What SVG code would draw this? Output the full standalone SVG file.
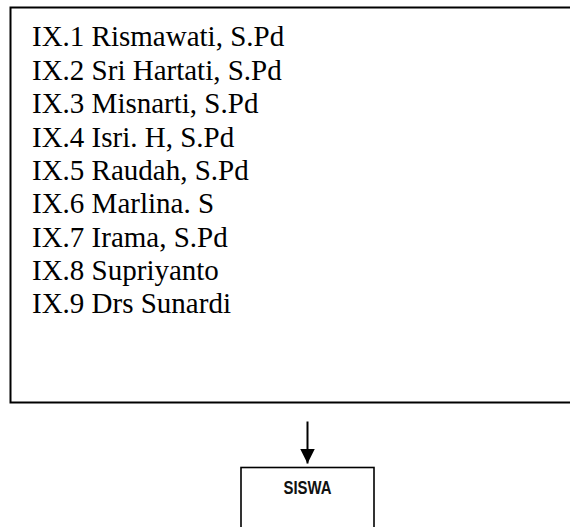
<svg xmlns="http://www.w3.org/2000/svg" width="570" height="527" viewBox="0 0 570 527">
<style>
.box{fill:#fff;stroke:#000}
.lst{font-family:"Liberation Serif","Times New Roman",serif;font-size:29px;fill:#000}
.lbl{font-family:"Liberation Sans",Arial,sans-serif;font-weight:bold;font-size:19px;fill:#111}
.conn{stroke:#000;stroke-width:2;fill:none}
</style>
<defs>
<marker id="ah" markerUnits="userSpaceOnUse" markerWidth="15" markerHeight="16" refX="15" refY="7.5" orient="auto">
<path d="M0,0 L15,7.5 L0,15 Z" fill="#000"/>
</marker>
</defs>
<rect width="570" height="527" fill="#fff"/>
<g id="guru">
<rect class="box" x="10.5" y="7.5" width="580" height="395" stroke-width="2"/>
<text class="lst" x="32" y="46">IX.1 Rismawati, S.Pd</text>
<text class="lst" x="32" y="79.5">IX.2 Sri Hartati, S.Pd</text>
<text class="lst" x="32" y="113">IX.3 Misnarti, S.Pd</text>
<text class="lst" x="32" y="146.5">IX.4 Isri. H, S.Pd</text>
<text class="lst" x="32" y="180">IX.5 Raudah, S.Pd</text>
<text class="lst" x="32" y="213">IX.6 Marlina. S</text>
<text class="lst" x="32" y="246.5">IX.7 Irama, S.Pd</text>
<text class="lst" x="32" y="280">IX.8 Supriyanto</text>
<text class="lst" x="32" y="313">IX.9 Drs Sunardi</text>
</g>
<g id="connectors">
<line class="conn" x1="307.5" y1="421.5" x2="307.5" y2="463.5" marker-end="url(#ah)"/>
</g>
<g id="siswa">
<rect class="box" x="241" y="467.5" width="133" height="80" stroke-width="1.6"/>
<text class="lbl" x="307.5" y="494" text-anchor="middle" textLength="48" lengthAdjust="spacingAndGlyphs">SISWA</text>
</g>
</svg>
